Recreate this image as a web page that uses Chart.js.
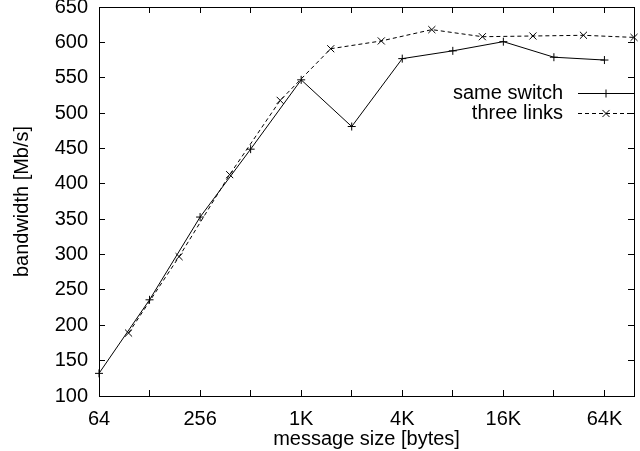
<!DOCTYPE html>
<html>
<head>
<meta charset="utf-8">
<title>bandwidth vs message size</title>
<script src="https://cdn.jsdelivr.net/npm/chart.js@4.4.1/dist/chart.umd.min.js"></script>
<style>
  html, body { margin: 0; padding: 0; background: #fff; }
  canvas { display: block; }
</style>
</head>
<body>
<canvas id="bwChart" width="640" height="451"></canvas>
<script>
/* --- DATA --- */
const SAME_SIZES = [64, 128, 256, 512, 1024, 2048, 4096, 8192, 16384, 32768, 65536];
const SAME_BW = [132, 236, 353, 449, 547, 481, 577, 588, 601, 579, 575];

const THREE_SIZES = [96, 192, 384, 768, 1536, 3072, 6144, 12288, 24576, 49152, 98304];
const THREE_BW = [189, 297, 413, 518, 591, 602, 618, 608, 609, 610, 607];

const SERIES = ['same switch', 'three links'];

const X_TICKS = [64, 128, 256, 512, 1024, 2048, 4096, 8192, 16384, 32768, 65536];
const X_LABELS = ['64', '', '256', '', '1K', '', '4K', '', '16K', '', '64K'];
const X_MIN = 64;
const X_MAX = 98304;
const Y_MIN = 100;
const Y_MAX = 650;
const Y_STEP = 50;

/* --- CHART --- */
Chart.defaults.font.family = "'Liberation Sans', Arial, Helvetica, sans-serif";
Chart.defaults.font.size = 20;
Chart.defaults.color = '#000';

const toPoints = (xs, ys) => xs.map((x, i) => ({ x: x, y: ys[i] }));

// force axis box sizes so the plot frame sits where gnuplot put it
const boxSize = (w, h) => (scale) => {
  if (w !== null) scale.width = w;
  if (h !== null) scale.height = h;
  scale.paddingTop = 0;
  scale.paddingBottom = 0;
  scale.paddingLeft = 0;
  scale.paddingRight = 0;
};

const powerTicks = (scale) => {
  scale.ticks = X_TICKS.map(v => ({ value: v }));
};

// gnuplot style ticks: pointing inwards, no grid
const tickGrid = { drawOnChartArea: false, drawTicks: true, tickLength: -6, color: '#000', lineWidth: 1 };
const frame = { display: true, color: '#000', width: 1 };

// legend drawn inside the plot, top right, text before the sample
const insideLegend = {
  id: 'insideLegend',
  afterDatasetsDraw(chart) {
    const ctx = chart.ctx;
    const area = chart.chartArea;
    ctx.save();
    chart.data.datasets.forEach((ds, i) => {
      const y = area.top + 86 + i * 20;
      ctx.fillStyle = '#000';
      ctx.font = "20px 'Liberation Sans', Arial, sans-serif";
      ctx.textAlign = 'right';
      ctx.textBaseline = 'middle';
      ctx.fillText(ds.label, area.right - 71, y);

      ctx.strokeStyle = ds.borderColor;
      ctx.lineWidth = ds.borderWidth;
      ctx.setLineDash(ds.borderDash || []);
      ctx.beginPath();
      ctx.moveTo(area.right - 56, y + 0.5);
      ctx.lineTo(area.right, y + 0.5);
      ctx.stroke();
      ctx.setLineDash([]);
      Chart.helpers.drawPoint(ctx, {
        pointStyle: ds.pointStyle,
        radius: ds.pointRadius,
        rotation: 0,
        borderWidth: 1
      }, area.right - 28, y + 0.5);
    });
    ctx.restore();
  }
};

new Chart(document.getElementById('bwChart').getContext('2d'), {
  type: 'line',
  data: {
    datasets: [{
      label: SERIES[0],
      data: toPoints(SAME_SIZES, SAME_BW),
      borderColor: '#000',
      backgroundColor: '#000',
      borderWidth: 1,
      pointStyle: 'cross',
      pointRadius: 4,
      pointBorderWidth: 1,
      tension: 0,
      clip: false
    }, {
      label: SERIES[1],
      data: toPoints(THREE_SIZES, THREE_BW),
      borderColor: '#000',
      backgroundColor: '#000',
      borderWidth: 1,
      borderDash: [4, 3],
      pointStyle: 'crossRot',
      pointRadius: 5,
      pointBorderWidth: 1,
      tension: 0,
      clip: false
    }]
  },
  options: {
    responsive: false,
    animation: false,
    events: [],
    layout: { padding: { top: 7, right: 1, bottom: 0, left: 0 } },
    plugins: {
      legend: { display: false },
      tooltip: { enabled: false }
    },
    scales: {
      x: {
        type: 'logarithmic',
        position: 'bottom',
        min: X_MIN,
        max: X_MAX,
        afterBuildTicks: powerTicks,
        afterFit: boxSize(null, 55),
        grid: tickGrid,
        border: frame,
        ticks: {
          autoSkip: false,
          maxRotation: 0,
          minRotation: 0,
          padding: 17,
          callback: (v, i) => X_LABELS[i]
        },
        title: { display: true, text: 'message size [bytes]', padding: { top: 0, bottom: 0 } }
      },
      x2: {
        type: 'logarithmic',
        position: 'top',
        min: X_MIN,
        max: X_MAX,
        afterBuildTicks: powerTicks,
        afterFit: boxSize(null, 0),
        grid: tickGrid,
        border: frame,
        ticks: { display: false }
      },
      y: {
        type: 'linear',
        position: 'left',
        min: Y_MIN,
        max: Y_MAX,
        afterFit: boxSize(99, null),
        grid: tickGrid,
        border: frame,
        ticks: { stepSize: Y_STEP, padding: 17 },
        title: { display: true, text: 'bandwidth [Mb/s]', padding: { top: 10, bottom: 0 } }
      },
      y2: {
        type: 'linear',
        position: 'right',
        min: Y_MIN,
        max: Y_MAX,
        afterFit: boxSize(0, null),
        grid: tickGrid,
        border: frame,
        ticks: { display: false, stepSize: Y_STEP }
      }
    }
  },
  plugins: [insideLegend]
});
</script>
</body>
</html>
